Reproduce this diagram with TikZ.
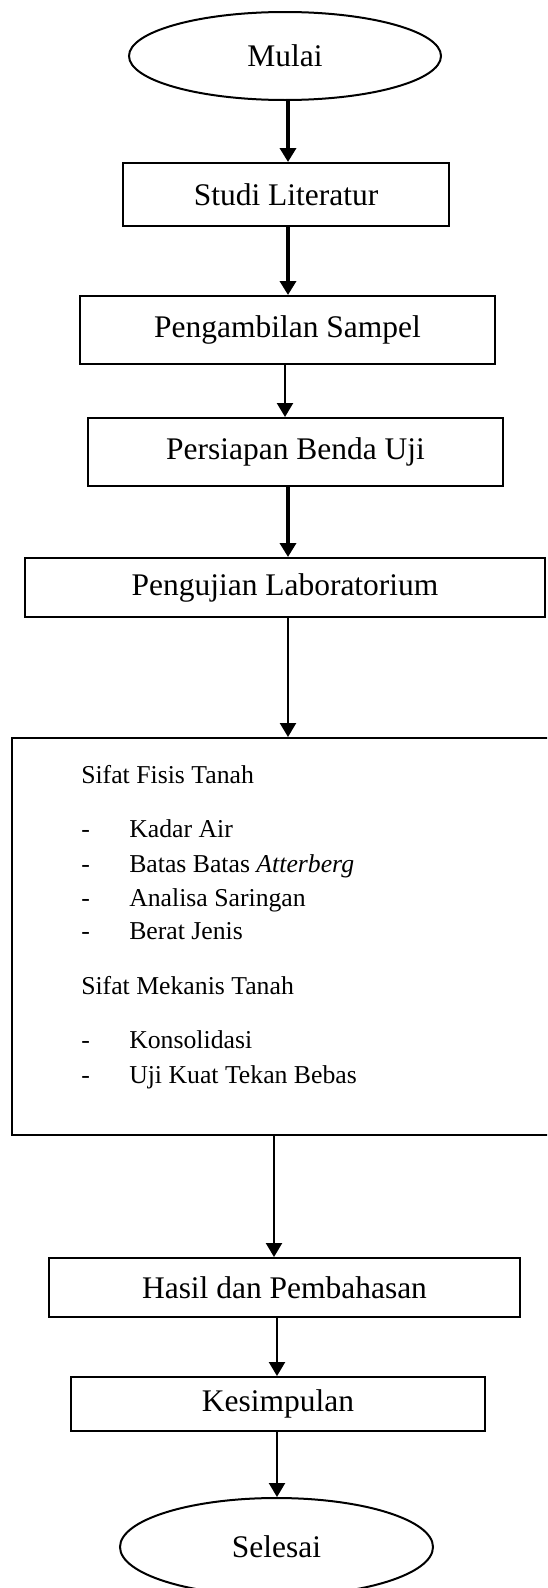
\documentclass[tikz,border=0pt]{standalone}
\usepackage{fontspec}
\setmainfont{Liberation Serif}
\usepackage{tikz}
\usetikzlibrary{arrows.meta,shapes,positioning}

\newcommand{\butir}[1]{\makebox[36pt][l]{-}#1}

\begin{document}
\begin{tikzpicture}[
    x=0.75pt, y=-0.75pt,
    box/.style={rectangle, draw, line width=1.5pt, inner sep=0pt, font=\fontsize{23.6}{28}\selectfont},
    term/.style={ellipse, draw, line width=1.5pt, inner sep=0pt, font=\fontsize{23.6}{28}\selectfont},
    listtext/.style={anchor=base west, inner sep=0pt, font=\fontsize{19.3}{23}\selectfont},
    arrow/.style={-{Triangle[length=10.5pt,width=12pt]}, line width=1.8pt},
    boldarrow/.style={-{Triangle[length=10.5pt,width=12pt]}, line width=3pt}
]
    \useasboundingbox (0,0) rectangle (547,1588);
    \clip (0,0) rectangle (547,1588);

    \node[term, minimum width=234pt, minimum height=66pt] (mulai) at (285,56) {Mulai};
    \node[box, minimum width=244.5pt, minimum height=47.25pt] (studi) at (286,194.5) {Studi Literatur};
    \node[box, minimum width=311.25pt, minimum height=51pt] (ambil) at (287.5,330) {Pengambilan Sampel};
    \node[box, minimum width=311.25pt, minimum height=51pt] (siap) at (295.5,452) {Persiapan Benda Uji};
    \node[box, minimum width=390pt, minimum height=44.25pt] (uji) at (285,587.5) {Pengujian Laboratorium};
    \node[box, minimum width=405pt, minimum height=297.75pt] (sifat) at (282,936.5) {};
    \node[box, minimum width=353.25pt, minimum height=44.25pt] (hasil) at (284.5,1287.5) {Hasil dan Pembahasan};
    \node[box, minimum width=310.5pt, minimum height=40.5pt] (simpul) at (278,1404) {Kesimpulan};
    \node[term, minimum width=234.75pt, minimum height=73.5pt] (selesai) at (276.5,1547) {Selesai};

    % isi kotak pengujian
    \node[listtext] (fisis) at (81,783) {Sifat Fisis Tanah};
    \node[listtext] (kadar) at (81,837) {\butir{Kadar Air}};
    \node[listtext] (batas) at (81,872) {\butir{Batas Batas \textit{Atterberg}}};
    \node[listtext] (saring) at (81,906) {\butir{Analisa Saringan}};
    \node[listtext] (berat) at (81,939) {\butir{Berat Jenis}};
    \node[listtext] (mekanis) at (81,994) {Sifat Mekanis Tanah};
    \node[listtext] (konsol) at (81,1048) {\butir{Konsolidasi}};
    \node[listtext] (ukt) at (81,1083) {\butir{Uji Kuat Tekan Bebas}};

    \coordinate (colA) at (288,0);
    \coordinate (colB) at (285,0);
    \coordinate (colC) at (274,0);
    \coordinate (colD) at (277,0);

    \draw[boldarrow] (mulai.south -| colA) -- (studi.north -| colA);
    \draw[boldarrow] (studi.south -| colA) -- (ambil.north -| colA);
    \draw[arrow] (ambil.south -| colB) -- (siap.north -| colB);
    \draw[boldarrow] (siap.south -| colA) -- (uji.north -| colA);
    \draw[arrow] (uji.south -| colA) -- (sifat.north -| colA);
    \draw[arrow] (sifat.south -| colC) -- (hasil.north -| colC);
    \draw[arrow] (hasil.south -| colD) -- (simpul.north -| colD);
    \draw[arrow] (simpul.south -| colD) -- (selesai.north -| colD);
\end{tikzpicture}
\end{document}
